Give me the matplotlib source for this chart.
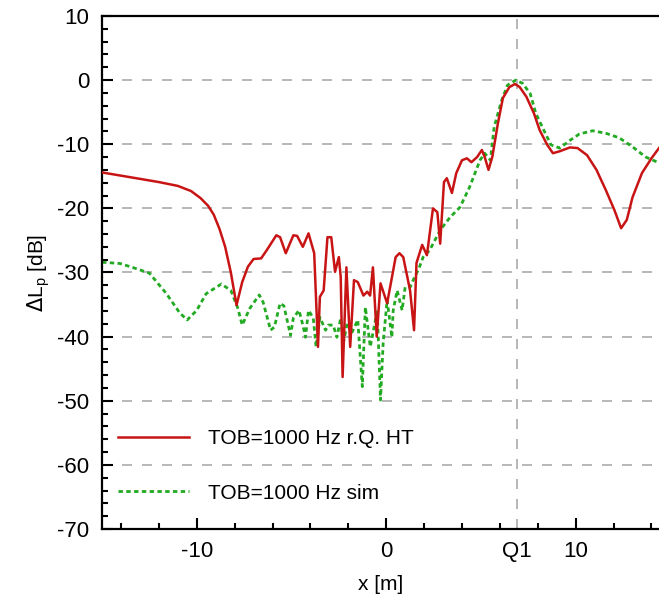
import matplotlib.pyplot as plt
from matplotlib.ticker import MultipleLocator

plt.rcParams["font.family"] = ["Liberation Sans", "DejaVu Sans"]
plt.rcParams["axes.unicode_minus"] = False

# measured (r.Q. HT) curve
red_x = [-15.0, -14.0, -13.0, -12.0, -11.0, -10.3, -9.8, -9.4, -9.1, -8.8,
         -8.5, -8.2, -7.9, -7.6, -7.3, -7.0,
         -6.6, -6.3, -5.8, -5.6, -5.3, -4.9, -4.7, -4.4, -4.1, -3.8, -3.6, -3.5,
         -3.3, -3.1, -2.9, -2.7, -2.5, -2.4, -2.3, -2.1, -1.9, -1.7, -1.5, -1.2,
         -1.0, -0.85, -0.7, -0.5, -0.3, 0.05, 0.5, 0.7, 0.9, 1.26, 1.47, 1.6,
         1.9, 2.15, 2.47, 2.7, 2.85, 3.05, 3.2, 3.47, 3.7, 4.0, 4.26, 4.5, 4.8,
         5.05, 5.2, 5.4, 5.6, 5.9, 6.16, 6.5, 6.8, 7.05, 7.4, 7.8, 8.1, 8.5,
         8.8, 9.16, 9.7, 10.1, 10.6, 11.1, 11.6, 12.05, 12.4, 12.7, 13.0, 13.5,
         14.0, 14.4]
red_y = [-14.4, -14.9, -15.4, -15.9, -16.5, -17.3, -18.4, -19.6, -21.0, -23.2,
         -26.0, -30.0, -35.1, -31.5, -29.1,
         -27.9, -27.8, -26.5, -24.2, -24.5, -27.0, -24.2, -24.3, -26.0, -23.9,
         -27.0, -41.6, -33.8, -32.8, -24.5, -24.5, -29.9, -27.6, -30.7, -46.3,
         -29.2, -41.6, -31.2, -31.5, -33.6, -33.0, -33.6, -29.2, -40.0, -31.7,
         -34.8, -27.6, -27.0, -27.6, -32.8, -39.0, -28.5, -25.7, -27.3, -20.0,
         -20.6, -25.5, -15.9, -15.3, -17.6, -14.5, -12.5, -12.2, -12.8, -12.0,
         -10.9, -12.0, -14.0, -12.0, -6.7, -2.8, -1.1, -0.6, -1.1, -2.6, -5.2,
         -7.8, -10.1, -11.4, -11.1, -10.5, -10.6, -11.7, -14.0, -17.2, -20.3,
         -23.1, -21.8, -18.3, -14.5, -12.2, -10.6]

# simulation curve
sim_x = [-15.0, -14.05, -13.4, -12.5, -11.6, -10.9, -10.5, -10.0, -9.5, -8.7,
         -8.2, -7.85, -7.6, -7.2, -6.7, -6.5, -6.1, -5.9, -5.6, -5.4, -5.05,
         -4.9, -4.6, -4.4, -4.26, -4.1, -3.85, -3.7, -3.5, -3.2, -3.05, -2.8,
         -2.6, -2.4, -2.26, -2.05, -1.8, -1.5, -1.26, -1.1, -0.84, -0.47, -0.3,
         -0.16, 0.05, 0.3, 0.37, 0.58, 0.84, 1.0, 1.26, 1.5, 1.7, 1.95, 2.3,
         2.85, 3.37, 3.9, 4.4, 4.95, 5.2, 5.5, 5.7, 6.1, 6.4, 6.84, 7.2, 7.6,
         7.9, 8.4, 8.7, 9.16, 9.7, 10.2, 10.9, 11.6, 12.3, 13.0, 13.7, 14.4]
sim_y = [-28.4, -28.6, -29.2, -30.1, -33.3, -36.3, -37.4, -35.9, -33.3, -31.8,
         -32.8, -35.4, -38.2, -35.6, -33.5, -34.6, -39.0, -38.5, -34.8, -35.2,
         -39.8, -37.1, -35.9, -38.2, -40.1, -35.9, -37.1, -41.6, -37.0, -39.0,
         -38.2, -38.2, -40.1, -37.1, -41.0, -37.8, -39.3, -37.4, -47.8, -35.4,
         -41.6, -35.9, -49.9, -41.0, -34.3, -40.1, -35.9, -32.8, -35.9, -32.3,
         -32.3, -30.7, -29.6, -27.6, -26.5, -23.4, -21.4, -19.8, -16.7, -12.5,
         -11.4, -12.5, -7.3, -3.1, -0.8, 0.0, -0.5, -2.1, -5.2, -8.3, -10.1,
         -10.6, -9.4, -8.4, -7.9, -8.3, -9.0, -10.4, -12.0, -12.9]

q1_pos = 6.9
x_ticks = [-10, 0, q1_pos, 10]
x_tick_labels = ["-10", "0", "Q1", "10"]
y_ticks = [10, 0, -10, -20, -30, -40, -50, -60, -70]

fig = plt.figure(figsize=(6.59, 5.98), dpi=100)
ax = fig.add_axes([0.1548, 0.1154, 0.8452, 0.8579])

for yv in y_ticks[1:-1]:
    ax.axhline(yv, color="#aaaaaa", lw=1.2, ls=(0, (6, 6)), zorder=1)
ax.axvline(q1_pos, color="#aaaaaa", lw=1.2, ls=(0, (6, 6)), zorder=1)

ax.plot(red_x, red_y, color="#c81414", lw=1.8, label="TOB=1000 Hz r.Q. HT", zorder=3)
ax.plot(sim_x, sim_y, color="#22aa22", lw=2.0, ls=(0, (1.6, 1.2)),
        label="TOB=1000 Hz sim", zorder=2)

ax.set_xlim(-15, 14.4)
ax.set_ylim(-70, 10)
ax.set_xticks(x_ticks, x_tick_labels)
ax.set_yticks(y_ticks)
ax.xaxis.set_minor_locator(MultipleLocator(2))
ax.yaxis.set_minor_locator(MultipleLocator(2))
ax.tick_params(which="both", direction="in", width=1.5, labelsize=16, pad=9)
ax.tick_params(which="major", length=8)
ax.tick_params(which="minor", length=4)
ax.xaxis.get_major_ticks()[2].tick1line.set_visible(False)

for side in ["left", "bottom", "top"]:
    ax.spines[side].set_linewidth(1.6)
ax.spines["right"].set_visible(False)

ax.set_xlabel("x [m]", fontsize=15, labelpad=9)
ax.set_ylabel(r"$\Delta$L$_\mathregular{p}$ [dB]", fontsize=15, labelpad=4)

ax.legend(loc="center left", bbox_to_anchor=(0.0287, 0.123), frameon=False,
          fontsize=15, handlelength=3.4, handletextpad=0.9, labelspacing=1.7,
          borderpad=0, borderaxespad=0)

plt.savefig("out.png", dpi=100)
